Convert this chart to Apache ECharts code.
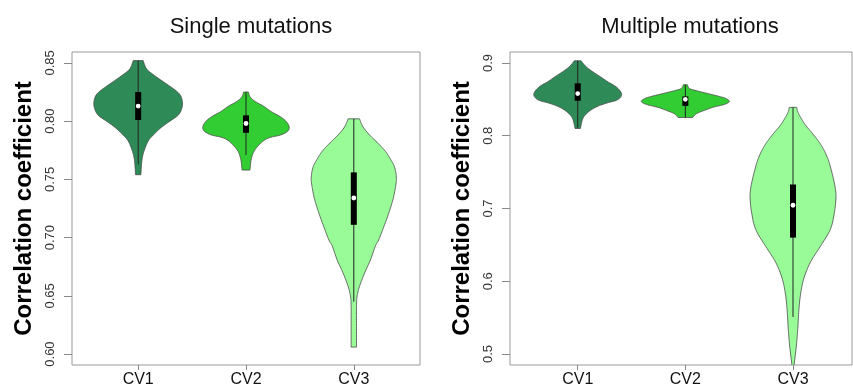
<!DOCTYPE html>
<html>
<head>
<meta charset="utf-8">
<script src="https://cdn.jsdelivr.net/npm/echarts@6/dist/echarts.min.js"></script>
<style>
html,body{margin:0;padding:0;background:#fff;}
#chart{width:853px;height:388px;}
</style>
</head>
<body>
<div id="chart"></div>
<script>
// ---------- data ----------
const categories = ['CV1', 'CV2', 'CV3'];
const panelTitles = ['Single mutations', 'Multiple mutations'];
const yAxisTitle = 'Correlation coefficient';
const singleTicks = [0.60, 0.65, 0.70, 0.75, 0.80, 0.85];
const multipleTicks = [0.5, 0.6, 0.7, 0.8, 0.9];
const violinColors = ['#2E8B57', '#32CD32', '#98FB98'];

// violin outlines: correlation values (top -> bottom) and half-widths (in category units)
const singleCV1Values = [0.852, 0.845, 0.840, 0.834, 0.828, 0.823, 0.817, 0.811, 0.805, 0.800, 0.794, 0.788, 0.783, 0.774, 0.766, 0.754];
const singleCV1Widths = [0.046, 0.077, 0.139, 0.231, 0.324, 0.386, 0.410, 0.405, 0.370, 0.294, 0.206, 0.139, 0.093, 0.053, 0.034, 0.025];
const singleCV2Values = [0.825, 0.821, 0.817, 0.813, 0.808, 0.804, 0.800, 0.795, 0.791, 0.788, 0.786, 0.783, 0.778, 0.773, 0.766, 0.758];
const singleCV2Widths = [0.023, 0.037, 0.083, 0.160, 0.238, 0.315, 0.370, 0.401, 0.382, 0.315, 0.222, 0.160, 0.105, 0.068, 0.046, 0.037];
const singleCV3Values = [0.802, 0.795, 0.788, 0.781, 0.774, 0.767, 0.760, 0.751, 0.743, 0.733, 0.721, 0.710, 0.698, 0.693, 0.681, 0.670, 0.659, 0.650, 0.641, 0.624, 0.606];
const singleCV3Widths = [0.053, 0.086, 0.148, 0.225, 0.294, 0.343, 0.380, 0.395, 0.386, 0.364, 0.324, 0.281, 0.231, 0.201, 0.155, 0.102, 0.056, 0.031, 0.025, 0.025, 0.025];

const multipleCV1Values = [0.903, 0.895, 0.888, 0.881, 0.874, 0.868, 0.861, 0.855, 0.849, 0.845, 0.840, 0.833, 0.824, 0.810];
const multipleCV1Widths = [0.031, 0.077, 0.139, 0.211, 0.281, 0.350, 0.397, 0.406, 0.365, 0.272, 0.179, 0.102, 0.049, 0.025];
const multipleCV2Values = [0.870, 0.865, 0.862, 0.858, 0.854, 0.851, 0.847, 0.843, 0.839, 0.834, 0.830, 0.825];
const multipleCV2Widths = [0.019, 0.037, 0.099, 0.207, 0.316, 0.378, 0.409, 0.362, 0.254, 0.161, 0.099, 0.068];
const multipleCV3Values = [0.839, 0.833, 0.826, 0.815, 0.804, 0.792, 0.781, 0.769, 0.758, 0.735, 0.717, 0.694, 0.671, 0.648, 0.626, 0.603, 0.580, 0.557, 0.534, 0.511, 0.484];
const multipleCV3Widths = [0.034, 0.044, 0.068, 0.114, 0.176, 0.239, 0.285, 0.322, 0.346, 0.384, 0.399, 0.384, 0.346, 0.254, 0.161, 0.099, 0.068, 0.053, 0.044, 0.031, 0.009];

// box summaries per category
const singleQ1 = [0.801, 0.790, 0.711];
const singleMedian = [0.813, 0.798, 0.734];
const singleQ3 = [0.825, 0.805, 0.756];
const singleLow = [0.763, 0.771, 0.645];
const singleHigh = [0.852, 0.825, 0.802];

const multipleQ1 = [0.848, 0.841, 0.660];
const multipleMedian = [0.858, 0.850, 0.7045];
const multipleQ3 = [0.872, 0.854, 0.733];
const multipleLow = [0.811, 0.825, 0.551];
const multipleHigh = [0.903, 0.870, 0.839];

// ---------- chart ----------
const singleProfiles = [[singleCV1Values, singleCV1Widths], [singleCV2Values, singleCV2Widths], [singleCV3Values, singleCV3Widths]];
const multipleProfiles = [[multipleCV1Values, multipleCV1Widths], [multipleCV2Values, multipleCV2Widths], [multipleCV3Values, multipleCV3Widths]];

// Catmull-Rom through pixel points (open curve)
function catmull(pts, steps) {
  const out = [];
  const n = pts.length;
  for (let i = 0; i < n - 1; i++) {
    const p0 = pts[Math.max(0, i - 1)], p1 = pts[i], p2 = pts[i + 1], p3 = pts[Math.min(n - 1, i + 2)];
    for (let s = 0; s < steps; s++) {
      const t = s / steps, t2 = t * t, t3 = t2 * t;
      out.push([
        0.5 * (2 * p1[0] + (-p0[0] + p2[0]) * t + (2 * p0[0] - 5 * p1[0] + 4 * p2[0] - p3[0]) * t2 + (-p0[0] + 3 * p1[0] - 3 * p2[0] + p3[0]) * t3),
        0.5 * (2 * p1[1] + (-p0[1] + p2[1]) * t + (2 * p0[1] - 5 * p1[1] + 4 * p2[1] - p3[1]) * t2 + (-p0[1] + 3 * p1[1] - 3 * p2[1] + p3[1]) * t3)
      ]);
    }
  }
  out.push(pts[n - 1]);
  return out;
}

function makeRender(profiles, q1, med, q3, lo, hi) {
  return function (params, api) {
    const i = params.dataIndex;
    const x = api.value(0);
    const vs = profiles[i][0], ws = profiles[i][1];
    const right = [], left = [];
    for (let k = 0; k < vs.length; k++) {
      right.push(api.coord([x + ws[k], vs[k]]));
      left.push(api.coord([x - ws[k], vs[k]]));
    }
    const pts = catmull(right, 8).concat(catmull(left, 8).reverse());
    const c = api.coord([x, med[i]]);
    const yHi = api.coord([x, hi[i]])[1];
    const yLo = api.coord([x, lo[i]])[1];
    const yQ3 = api.coord([x, q3[i]])[1];
    const yQ1 = api.coord([x, q1[i]])[1];
    return {
      type: 'group',
      children: [
        { type: 'polygon', shape: { points: pts }, style: { fill: violinColors[i], stroke: '#4a4a4a', lineWidth: 0.8 } },
        { type: 'line', shape: { x1: c[0], y1: yHi, x2: c[0], y2: yLo }, style: { stroke: '#222', lineWidth: 1 } },
        { type: 'rect', shape: { x: c[0] - 3, y: yQ3, width: 6, height: yQ1 - yQ3 }, style: { fill: '#000' } },
        { type: 'circle', shape: { cx: c[0], cy: c[1], r: 2.4 }, style: { fill: '#fff' } }
      ]
    };
  };
}

function yAxisCfg(gridIndex, min, max, ticks, digits) {
  return {
    type: 'value', gridIndex: gridIndex, min: min, max: max,
    name: yAxisTitle, nameLocation: 'middle', nameGap: 36,
    nameTextStyle: { fontFamily: 'Liberation Sans, Arial, sans-serif', fontSize: 24, fontWeight: 'bold', color: '#000' },
    axisLine: { show: false },
    splitLine: { show: false },
    axisTick: { show: true, customValues: ticks, length: 8, lineStyle: { color: '#888' } },
    axisLabel: {
      customValues: ticks, rotate: 90, margin: 15,
      formatter: function (v) { return v.toFixed(digits); },
      fontFamily: 'Liberation Sans, Arial, sans-serif', fontSize: 13, color: '#333'
    }
  };
}

function xAxisCfg(gridIndex, min, max) {
  return {
    type: 'value', gridIndex: gridIndex, min: min, max: max,
    axisLine: { show: false },
    splitLine: { show: false },
    axisTick: { show: true, customValues: [1, 2, 3], length: 5, lineStyle: { color: '#888' } },
    axisLabel: {
      customValues: [1, 2, 3], margin: 7,
      formatter: function (v) { return categories[Math.round(v) - 1]; },
      fontFamily: 'Liberation Sans, Arial, sans-serif', fontSize: 16, color: '#111'
    }
  };
}

const chart = echarts.init(document.getElementById('chart'), null, { renderer: 'canvas' });
chart.setOption({
  animation: false,
  backgroundColor: '#fff',
  title: [
    { text: panelTitles[0], left: 246, top: 11, textAlign: 'center', textStyle: { fontFamily: 'Liberation Sans, Arial, sans-serif', fontSize: 22, fontWeight: 'normal', color: '#111' } },
    { text: panelTitles[1], left: 685, top: 11, textAlign: 'center', textStyle: { fontFamily: 'Liberation Sans, Arial, sans-serif', fontSize: 22, fontWeight: 'normal', color: '#111' } }
  ],
  grid: [
    { left: 72, top: 52, width: 348, height: 314, show: true, borderColor: '#999', borderWidth: 1, backgroundColor: 'transparent' },
    { left: 510, top: 52, width: 342, height: 314, show: true, borderColor: '#999', borderWidth: 1, backgroundColor: 'transparent' }
  ],
  xAxis: [xAxisCfg(0, 0.386, 3.614), xAxisCfg(1, 0.371, 3.548)],
  yAxis: [yAxisCfg(0, 0.5906, 0.8594, singleTicks, 2), yAxisCfg(1, 0.48493, 0.91507, multipleTicks, 1)],
  series: [
    {
      type: 'custom', xAxisIndex: 0, yAxisIndex: 0, clip: true,
      renderItem: makeRender(singleProfiles, singleQ1, singleMedian, singleQ3, singleLow, singleHigh),
      encode: { x: 0, y: 1 },
      data: categories.map(function (c, i) { return [i + 1, singleMedian[i]]; })
    },
    {
      type: 'custom', xAxisIndex: 1, yAxisIndex: 1, clip: true,
      renderItem: makeRender(multipleProfiles, multipleQ1, multipleMedian, multipleQ3, multipleLow, multipleHigh),
      encode: { x: 0, y: 1 },
      data: categories.map(function (c, i) { return [i + 1, multipleMedian[i]]; })
    }
  ]
});
</script>
</body>
</html>
